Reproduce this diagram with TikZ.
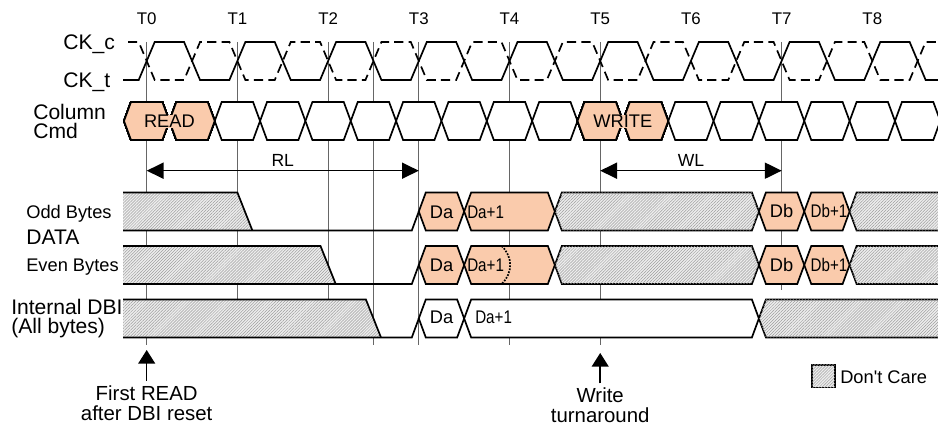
\documentclass[tikz,border=0pt]{standalone}
\usepackage{fontspec}
\setmainfont{Liberation Sans}
\usetikzlibrary{arrows.meta,patterns.meta}
\definecolor{peach}{RGB}{250,203,172}
% one bus cell: left tip, right tip, middle height
\newcommand{\hexcell}[4][]{\draw[wave,#1] ({#2},{#4}) -- ({#2+7},{#4-19}) -- ({#3-7},{#4-19}) -- ({#3},{#4}) -- ({#3-7},{#4+19}) -- ({#2+7},{#4+19}) -- cycle;}
\begin{document}
\begin{tikzpicture}[x=0.25mm,y=-0.25mm,
  wave/.style={line width=1.2pt},
  ckc/.style={wave,dash pattern=on 2.3mm off 1.3mm},
  grid/.style={black!60,line width=0.7pt},
  dontcare/.style={fill=black!7,postaction={pattern={Lines[angle=45,distance=1.5pt,line width=0.35pt]},pattern color=black!38}},
  cell/.style={inner sep=0pt,font=\fontsize{13}{13}\selectfont},
  tlbl/.style={inner sep=0pt,anchor=base,font=\fontsize{12}{12}\selectfont},
  sig/.style={inner sep=0pt,font=\fontsize{15}{13.5}\selectfont},
  bytes/.style={inner sep=0pt,anchor=base west,font=\fontsize{13}{13}\selectfont},
  span/.style={line width=1.1pt,{Triangle[length=4.2mm,width=4mm]}-{Triangle[length=4.2mm,width=4mm]}},
  pointer/.style={line width=1.1pt,-{Triangle[length=3.4mm,width=4.2mm]}}]

    \useasboundingbox (0,0) rectangle (938,425);
    \clip (0,0) rectangle (938,425);

    % clock edges and reference lines
    \foreach \k in {0,...,8}
        \node[tlbl] (T\k) at ({146.7+90.7*\k},25) {T\k};
    \foreach \x/\y in {146.7/345, 237.4/299, 328.1/299, 373.45/345, 418.8/345, 509.5/345, 600.2/345, 781.7/290}
        \draw[grid] (\x,42) -- (\x,\y);

    % differential clock
    \draw[wave] (123,80) \foreach \k in {0,...,8} { -- ({146.7+90.7*\k-8},80) -- ({146.7+90.7*\k+8},42) -- ({192.05+90.7*\k-8},42) -- ({192.05+90.7*\k+8},80)} -- (950,80);
    \draw[ckc] (128,42) \foreach \k in {0,...,8} { -- ({146.7+90.7*\k-8},42) -- ({146.7+90.7*\k+8},80) -- ({192.05+90.7*\k-8},80) -- ({192.05+90.7*\k+8},42)} -- (950,42);

    % column command bus
    \foreach \c [evaluate=\c as \xl using 124+45.35*\c] in {0,...,17}
        \hexcell[fill=white]{\xl}{\xl+45.35}{121}
    \hexcell[fill=peach]{124}{169.35}{121}
    \hexcell[fill=peach]{169.35}{214.7}{121}
    \hexcell[fill=peach]{577.5}{622.85}{121}
    \hexcell[fill=peach]{622.85}{668.2}{121}
    \node[cell,fill=peach,inner xsep=1pt] (read) at (169.4,121.7) {READ};
    \node[cell,fill=peach,inner xsep=1pt] (write) at (622.9,121.7) {WRITE};

    % odd bytes
    \fill[dontcare] (123,192.5) -- (237.4,192.5) -- (252.4,230.5) -- (123,230.5) -- cycle;
    \draw[wave] (123,192.5) -- (237.4,192.5) -- (252.4,230.5);
    \draw[wave] (123,230.5) -- (411.8,230.5) -- (418.8,211.5);
    \hexcell[fill=peach]{418.8}{464.15}{211.5}
    \hexcell[fill=peach]{464.15}{554.85}{211.5}
    \hexcell[dontcare]{554.85}{758.9}{211.5}
    \hexcell[fill=peach]{758.9}{804.25}{211.5}
    \hexcell[fill=peach]{804.25}{849.6}{211.5}
    \hexcell[dontcare]{849.6}{990}{211.5}
    \node[cell] (oddDa) at (441.5,212) {Da};
    \node[cell,anchor=west] (oddDa1) at (467,212) {\scalebox{0.83}[1]{Da+1}};
    \node[cell] (oddDb) at (781.6,211) {Db};
    \node[cell] (oddDb1) at (829,211) {\scalebox{0.83}[1]{Db+1}};

    % even bytes
    \fill[dontcare] (123,246) -- (320.5,246) -- (335.7,284) -- (123,284) -- cycle;
    \draw[wave] (123,246) -- (320.5,246) -- (335.7,284);
    \draw[wave] (123,284) -- (411.8,284) -- (418.8,265);
    \hexcell[fill=peach]{418.8}{464.15}{265}
    \hexcell[fill=peach]{464.15}{554.85}{265}
    \hexcell[dontcare]{554.85}{758.9}{265}
    \hexcell[fill=peach]{758.9}{804.25}{265}
    \hexcell[fill=peach]{804.25}{849.6}{265}
    \hexcell[dontcare]{849.6}{990}{265}
    \draw[line width=1.2pt,densely dotted] (501.7,246) .. controls (513,257) and (513,273) .. (501.7,284);
    \node[cell] (evenDa) at (441.5,265.5) {Da};
    \node[cell,anchor=west] (evenDa1) at (467,265.5) {\scalebox{0.83}[1]{Da+1}};
    \node[cell] (evenDb) at (781.6,264.5) {Db};
    \node[cell] (evenDb1) at (829,264.5) {\scalebox{0.83}[1]{Db+1}};

    % internal dbi
    \fill[dontcare] (123,299.5) -- (365.9,299.5) -- (381,337.5) -- (123,337.5) -- cycle;
    \draw[wave] (123,299.5) -- (365.9,299.5) -- (381,337.5);
    \draw[wave] (123,337.5) -- (411.8,337.5) -- (418.8,318.5);
    \hexcell[fill=white]{418.8}{464.15}{318.5}
    \hexcell[fill=white]{464.15}{758.9}{318.5}
    \hexcell[dontcare]{758.9}{990}{318.5}
    \node[cell] (dbiDa) at (441.5,317) {Da};
    \node[cell,anchor=west] (dbiDa1) at (475,317) {\scalebox{0.83}[1]{Da+1}};

    % signal names
    \node[sig,anchor=base west] (ckc) at (63,49.3) {CK\_c};
    \node[sig,anchor=base west] (ckt) at (63,87.3) {CK\_t};
    \node[sig,anchor=west,align=left] (cmd) at (33,121.9) {Column\\Cmd};
    \node[bytes] (odd) at (26,218.3) {Odd Bytes};
    \node[sig,anchor=base west] (data) at (26,245) {DATA};
    \node[bytes] (even) at (26,271.7) {Even Bytes};
    \node[sig,anchor=west,align=left] (dbi) at (11,319) {Internal DBI\\(All bytes)};

    % latencies
    \coordinate (rlA) at (146.7,170.7);
    \coordinate (rlB) at (418.8,170.7);
    \coordinate (wlA) at (600.2,170.7);
    \coordinate (wlB) at (781.7,170.7);
    \draw[span] (rlA) -- (rlB) node[midway,above=2.4pt,inner sep=0pt,font=\fontsize{12.5}{12.5}\selectfont] (rl) {RL};
    \draw[span] (wlA) -- (wlB) node[midway,above=2.4pt,inner sep=0pt,font=\fontsize{12.5}{12.5}\selectfont] (wl) {WL};

    % notes
    \node[sig,font=\fontsize{14.5}{14}\selectfont,align=center] (first) at (146.7,403.5) {First READ\\after DBI reset};
    \node[sig,font=\fontsize{14.5}{14}\selectfont,align=center] (turn) at (600.2,404.9) {Write\\turnaround};
    \coordinate (firstTip) at (146.7,350);
    \coordinate (turnTip) at (600.2,353);
    \draw[pointer,shorten <=1.2mm] (first.north) -- (firstTip);
    \draw[pointer,shorten <=1mm] (turn.north) -- (turnTip);

    % legend
    \node[draw,line width=1.1pt,dontcare,minimum width=5.8mm,minimum height=5.7mm,inner sep=0pt] (dcbox) at (823.4,376.3) {};
    \node[bytes] (dc) at (840,383.3) {Don\textquotesingle t Care};
\end{tikzpicture}
\end{document}
